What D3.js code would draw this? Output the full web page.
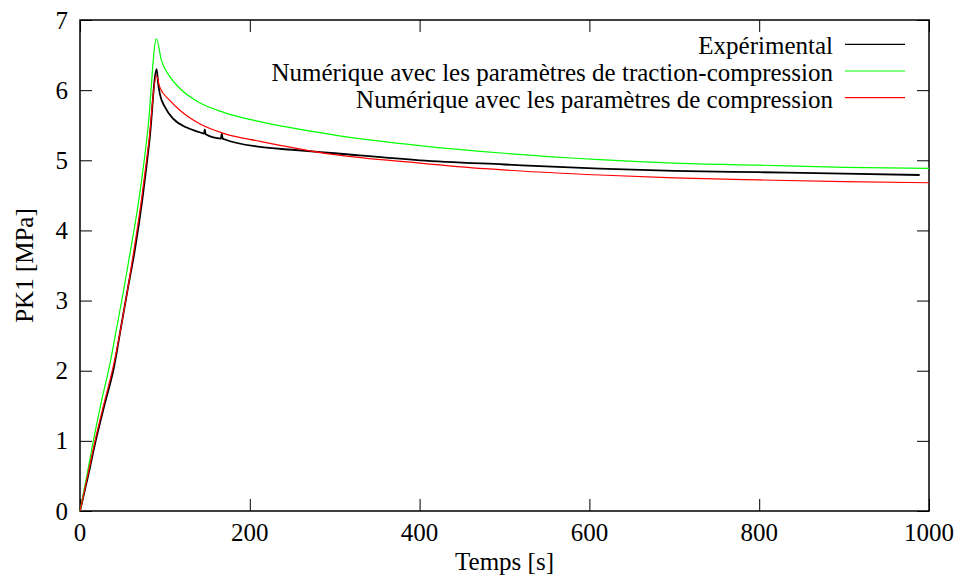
<!DOCTYPE html>
<html>
<head>
<meta charset="utf-8">
<script src="https://cdn.jsdelivr.net/npm/d3@7"></script>
</head>
<body style="margin:0">
<div id="chart"></div>
<script>
// values (time in s, PK1 in MPa)
var expT   = [0, 9.5, 18.5, 29, 40, 48, 56, 65, 73.5, 82, 90.3, 92, 94, 100, 110, 125, 141, 146, 147, 148, 166, 167, 168, 170, 212, 250, 300, 400, 500, 612, 700, 800, 900, 989];
var expV   = [0, 0.5, 1.0, 1.52, 2.05, 2.6, 3.15, 3.75, 4.45, 5.3, 6.3, 6.1, 5.95, 5.76, 5.59, 5.47, 5.40, 5.38, 5.44, 5.37, 5.31, 5.38, 5.31, 5.30, 5.19, 5.15, 5.10, 5.00, 4.94, 4.88, 4.85, 4.83, 4.81, 4.79];

var tcT    = [0, 8, 15.7, 25, 35.3, 43, 51, 60, 69.5, 80, 90, 96, 106, 118, 141, 170, 212, 300, 400, 500, 612, 700, 800, 900, 1000];
var tcV    = [0, 0.5, 1.0, 1.55, 2.1, 2.6, 3.12, 3.75, 4.45, 5.45, 6.73, 6.42, 6.19, 6.02, 5.82, 5.68, 5.55, 5.36, 5.21, 5.10, 5.01, 4.96, 4.93, 4.90, 4.885];

var cT     = [0, 9, 17.7, 28, 39, 48, 56, 64, 72.6, 81, 90, 94, 106, 118, 141, 170, 212, 300, 400, 477, 612, 700, 800, 900, 1000];
var cV     = [0, 0.5, 1.0, 1.52, 2.05, 2.6, 3.15, 3.75, 4.45, 5.25, 6.21, 6.04, 5.85, 5.71, 5.52, 5.38, 5.27, 5.08, 4.96, 4.88, 4.79, 4.75, 4.72, 4.695, 4.68];

var seriesNames  = ["Expérimental", "Numérique avec les paramètres de traction-compression", "Numérique avec les paramètres de compression"];
var seriesColors = ["#000000", "#00ff00", "#ff0000"];
var seriesWidths = [1.8, 1.2, 1.2];

var xTicks = [0, 200, 400, 600, 800, 1000];
var yTicks = [0, 1, 2, 3, 4, 5, 6, 7];

var series = [
  {name: seriesNames[0], color: seriesColors[0], w: seriesWidths[0], values: expT.map(function(t, i){ return {t: t, v: expV[i]}; })},
  {name: seriesNames[1], color: seriesColors[1], w: seriesWidths[1], values: tcT.map(function(t, i){ return {t: t, v: tcV[i]}; })},
  {name: seriesNames[2], color: seriesColors[2], w: seriesWidths[2], values: cT.map(function(t, i){ return {t: t, v: cV[i]}; })}
];

// plot box
var margin = {top: 20, right: 33, bottom: 71, left: 80},
    width = 962 - margin.left - margin.right,
    height = 582 - margin.top - margin.bottom;

var root = d3.select('#chart').append('svg')
            .attr('width', 962)
            .attr('height', 582);

// x and y map straight to page pixels
var x = d3.scaleLinear().domain([0, 1000]).range([margin.left, margin.left + width]);
var y = d3.scaleLinear().domain([0, 7]).range([margin.top + height, margin.top]);

// texts: anchor 0 = start, 0.5 = middle, 1 = end (shifted by measured width)
var labels = [];
xTicks.forEach(function(t){ labels.push({x: x(t), y: y(0) + 30, s: String(t), k: 0.5}); });
yTicks.forEach(function(v){ labels.push({x: x(0) - 12, y: y(v) + 8.5, s: String(v), k: 1}); });
var legX = 833, legY = 44.3, legStep = 26.7;
series.forEach(function(s, i){ labels.push({x: legX, y: legY + i * legStep + 10, s: s.name, k: 1}); });
labels.push({x: (x(0) + x(1000)) / 2, y: 570, s: 'Temps [s]', k: 0.5});

// gnuplot style: ticks inward on all four sides
var tickLen = 12;
var ax = root.append('g');
ax.append('g').attr('transform', "translate(0," + y(0) + ")")
  .call(d3.axisBottom(x).tickValues(xTicks).tickSizeInner(-tickLen).tickSizeOuter(0).tickFormat(''));
ax.append('g').attr('transform', "translate(0," + y(7) + ")")
  .call(d3.axisTop(x).tickValues(xTicks).tickSizeInner(-tickLen).tickSizeOuter(0).tickFormat(''));
ax.append('g').attr('transform', "translate(" + x(0) + ",0)")
  .call(d3.axisLeft(y).tickValues(yTicks).tickSizeInner(-tickLen).tickSizeOuter(0).tickFormat(''));
ax.append('g').attr('transform', "translate(" + x(1000) + ",0)")
  .call(d3.axisRight(y).tickValues(yTicks).tickSizeInner(-tickLen).tickSizeOuter(0).tickFormat(''));
ax.selectAll('.domain').remove();
ax.selectAll('.tick text').remove();
ax.selectAll('.tick line').attr('stroke', '#000').attr('stroke-width', 1);
ax.selectAll('g').attr('font-family', null).attr('font-size', null);
ax.attr('font-family', null);

// frame
root.append('rect')
   .attr('x', x(0)).attr('y', y(7))
   .attr('width', x(1000) - x(0)).attr('height', y(0) - y(7))
   .attr('fill', 'none').attr('stroke', '#000').attr('stroke-width', 1.5);

// curves
var line = d3.line()
    .x(function(d){ return x(d.t); })
    .y(function(d){ return y(d.v); })
    .curve(d3.curveMonotoneX);

root.selectAll('.curve').data(series).enter().append('path')
   .attr('class', 'curve')
   .attr('fill', 'none')
   .attr('stroke', function(d){ return d.color; })
   .attr('stroke-width', function(d){ return d.w; })
   .attr('d', function(d){ return line(d.values); });

// legend samples
series.forEach(function(s, i){
  var ly = legY + i * legStep;
  root.append('line')
     .attr('x1', legX + 12).attr('x2', legX + 72)
     .attr('y1', ly).attr('y2', ly)
     .attr('stroke', s.color)
     .attr('stroke-width', 1.2);
});

// horizontal texts, placed the same way as a plain text list
var txt = root.selectAll('.lbl').data(labels).enter().append('text')
   .attr('x', function(d){ return d.x; })
   .attr('y', function(d){ return d.y; })
   .style('font-family', function(){ return '"Liberation Serif"'; })
   .style('font-size', '25px')
   .text(function(d){ return d.s; });
txt.attr('x', function(d){ return d.x - d.k * this.getComputedTextLength(); });

// rotated y title
var yt = root.append('text')
   .attr('x', 0).attr('y', 0)
   .style('font-family', function(){ return '"Liberation Serif"'; })
   .style('font-size', '25px')
   .text('PK1 [MPa]');
yt.attr('transform', "translate(33," + ((y(0) + y(7)) / 2 + yt.node().getComputedTextLength() / 2) + ") rotate(-90)");
</script>
</body>
</html>
